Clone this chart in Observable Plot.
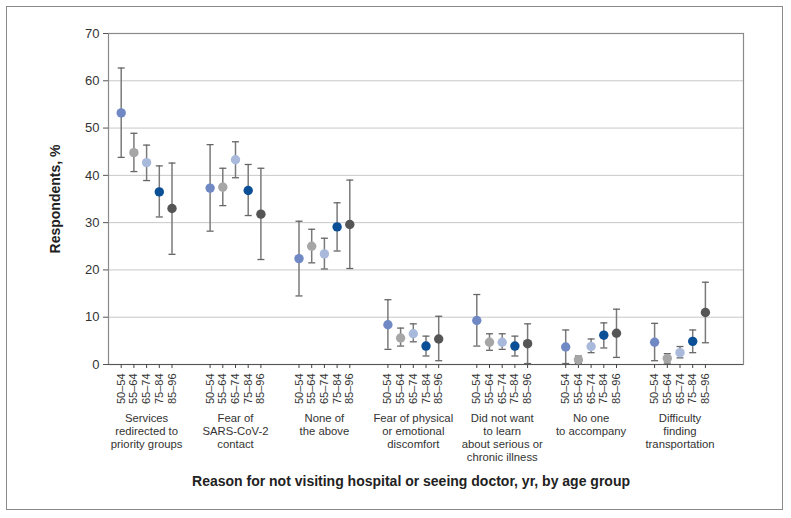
<!DOCTYPE html>
<html>
<head>
<meta charset="utf-8">
<script src="https://cdn.jsdelivr.net/npm/d3@7"></script>
<script src="https://cdn.jsdelivr.net/npm/@observablehq/plot@0.6"></script>
<style>
  html, body { margin: 0; padding: 0; background: #fff; }
  #wrap { position: relative; width: 791px; height: 518px; }
  #border { position: absolute; left: 6px; top: 6px; width: 775px; height: 502px; border: 1.5px solid #8a8a8a; pointer-events: none; }
  svg { font-family: "Liberation Sans", Arial, sans-serif; }
</style>
</head>
<body>
<div id="wrap"><div id="border"></div></div>
<script>
const reasons = [
  "Services\nredirected to\npriority groups",
  "Fear of\nSARS-CoV-2\ncontact",
  "None of\nthe above",
  "Fear of physical\nor emotional\ndiscomfort",
  "Did not want\nto learn\nabout serious or\nchronic illness",
  "No one\nto accompany",
  "Difficulty\nfinding\ntransportation"
];
const ages = ["50–54", "55–64", "65–74", "75–84", "85–96"];
const ageColors = ["#7089c4", "#a6a6a6", "#a8b9dc", "#0b4f96", "#555555"];
const yTicks = [0, 10, 20, 30, 40, 50, 60, 70];

const estimates = [
  [53.2, 44.8, 42.7, 36.5, 33.0],
  [37.3, 37.5, 43.3, 36.8, 31.8],
  [22.4, 25.0, 23.4, 29.1, 29.6],
  [8.4, 5.6, 6.5, 3.9, 5.4],
  [9.3, 4.7, 4.7, 3.9, 4.4],
  [3.7, 1.0, 3.8, 6.2, 6.6],
  [4.7, 1.3, 2.5, 4.9, 11.0]
];
const lower = [
  [43.8, 40.8, 38.9, 31.2, 23.3],
  [28.2, 33.6, 39.5, 31.5, 22.2],
  [14.5, 21.5, 20.2, 24.0, 20.3],
  [3.2, 3.9, 4.8, 1.8, 0.8],
  [3.9, 3.0, 3.2, 1.8, 0.2],
  [0.2, 0.2, 2.5, 3.5, 1.5],
  [0.8, 0.3, 1.4, 2.5, 4.6]
];
const upper = [
  [62.7, 48.9, 46.4, 42.0, 42.6],
  [46.5, 41.5, 47.1, 42.3, 41.5],
  [30.3, 28.6, 26.7, 34.2, 39.0],
  [13.7, 7.7, 8.6, 6.0, 10.2],
  [14.8, 6.5, 6.5, 6.0, 8.6],
  [7.3, 1.8, 5.4, 8.8, 11.7],
  [8.7, 2.3, 3.8, 7.3, 17.4]
];

// x domain: age slots per reason, two empty slots between groups and at the end
const key = (i, a) => `${i}|${a}`;
const xDomain = [];
reasons.forEach((r, i) => {
  ages.forEach(a => xDomain.push(key(i, a)));
  xDomain.push(`gap${i}a`, `gap${i}b`);
});
const tickKeys = xDomain.filter(k => k.includes("|"));

const rows = [];
reasons.forEach((r, i) => ages.forEach((a, j) => rows.push({
  x: key(i, a), age: a, est: estimates[i][j], lo: lower[i][j], hi: upper[i][j]
})));
const labels = reasons.map((r, i) => ({x: key(i, ages[2]), text: r}));

const capSymbol = {
  draw(context) {
    context.moveTo(-3.5, 0);
    context.lineTo(3.5, 0);
  }
};

const chart = Plot.plot({
  width: 791,
  height: 518,
  marginLeft: 108,
  marginTop: 33,
  marginRight: 48,
  marginBottom: 154,
  style: {fontFamily: "'Liberation Sans', Arial, sans-serif", color: "#333", background: "transparent"},
  x: {type: "point", domain: xDomain, padding: 1},
  y: {domain: [0, 70]},
  color: {domain: ages, range: ageColors},
  marks: [
    Plot.gridY(yTicks.filter(d => d > 0 && d < 70), {stroke: "#c8c8c8", strokeOpacity: 1, strokeWidth: 1}),
    Plot.frame({stroke: "#8a8a8a", strokeWidth: 1.2}),
    Plot.axisY(yTicks, {tickSize: 5, tickPadding: 4, fontSize: 13, label: null, stroke: "#555"}),
    Plot.ruleY([0], {stroke: "#555", strokeWidth: 1.2}),
    Plot.axisX(tickKeys, {
      tickSize: 4, tickPadding: 5, tickRotate: -90, fontSize: 11, label: null,
      stroke: "#444", tickFormat: d => d.split("|")[1]
    }),
    Plot.ruleX(rows, {x: "x", y1: "lo", y2: "hi", stroke: "#7a7a7a", strokeWidth: 1.5}),
    Plot.dot(rows, {x: "x", y: "lo", symbol: capSymbol, stroke: "#666", strokeWidth: 1.3, fill: "none"}),
    Plot.dot(rows, {x: "x", y: "hi", symbol: capSymbol, stroke: "#666", strokeWidth: 1.3, fill: "none"}),
    Plot.dot(rows, {x: "x", y: "est", fill: "age", r: 4.7, stroke: "none"}),
    Plot.text(labels, {
      x: "x", text: "text", frameAnchor: "bottom", dy: 48, lineAnchor: "top",
      fontSize: 11.3, lineHeight: 1.15, fill: "#333"
    }),
    Plot.text(["Respondents, %"], {
      frameAnchor: "left", textAnchor: "middle", dx: -53, rotate: -90, fontSize: 14, fontWeight: "bold", fill: "#222"
    }),
    Plot.text(["Reason for not visiting hospital or seeing doctor, yr, by age group"], {
      frameAnchor: "bottom", dy: 121, dx: -15, fontSize: 14, fontWeight: "bold", fill: "#222"
    })
  ]
});
document.getElementById("wrap").prepend(chart);
chart.style.position = "absolute";
chart.style.left = "0";
chart.style.top = "0";
</script>
</body>
</html>
